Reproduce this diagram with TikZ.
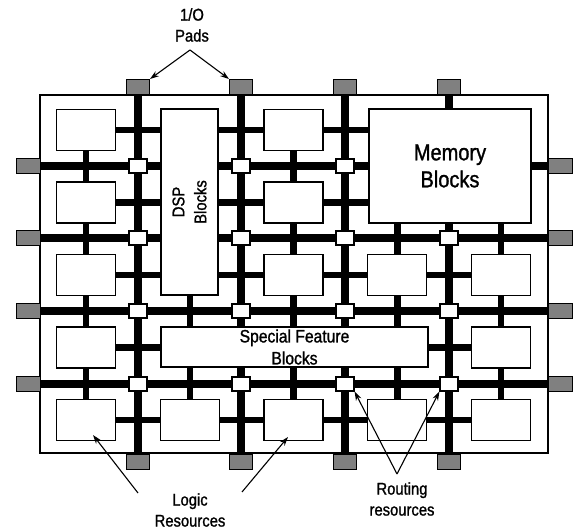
\documentclass[tikz,border=0pt]{standalone}
\usepackage{fontspec}
\setmainfont{Liberation Sans}[FakeStretch=0.87, FakeBold=1.2]
\usetikzlibrary{arrows.meta}
\definecolor{padgray}{gray}{0.5}

\begin{document}
\begin{tikzpicture}[
			x=1pt, y=-1pt,
			block/.style={rectangle, draw, line width=1.2pt, fill=white, inner sep=0pt, align=center},
			logic/.style={block, minimum width=59pt, minimum height=41pt},
			switch/.style={block, minimum width=18pt, minimum height=14pt},
			pad/.style={rectangle, draw, line width=1pt, fill=padgray, minimum width=23pt, minimum height=15pt, inner sep=0pt},
			mainbus/.style={line width=7.5pt},
			subbus/.style={line width=6.5pt},
			label/.style={align=center, font=\fontsize{17}{21}\selectfont},
			pointer/.style={-{Stealth[length=9pt, width=6pt]}, line width=1.1pt}
			]
			\useasboundingbox (0,0) rectangle (574,532);
			
			% chip frame
			\draw[line width=1.2pt] (40,95) rectangle (548,453);
			
			% routing lines
			\foreach \x in {138,241,345,449}
				\draw[mainbus] (\x,95) -- (\x,453);
			\foreach \y in {166,238,311,384}
				\draw[mainbus] (40,\y) -- (548,\y);
			\foreach \y in {130,202.5,275,347.5,420}
				\draw[subbus] (86,\y) -- (501,\y);
			\foreach \x in {86,189.75,293.5,397.25,501}
				\draw[subbus] (\x,130) -- (\x,420);
			
			% switch boxes
			\foreach \i/\x/\j/\y in {1/138/1/166, 2/241/1/166, 3/345/1/166,
					1/138/2/238, 2/241/2/238, 3/345/2/238, 4/449/2/238,
					1/138/3/311, 2/241/3/311, 3/345/3/311, 4/449/3/311,
					1/138/4/384, 2/241/4/384, 3/345/4/384, 4/449/4/384}
				\node[switch] (sw\i\j) at (\x,\y) {};
			
			% logic blocks
			\foreach \c/\r in {1/1,1/2,1/3,1/4,1/5,2/5,3/1,3/2,3/3,3/5,4/3,4/5,5/3,5/4,5/5}
				\node[logic] (lb\c\r) at ({86+103.75*(\c-1)},{130+72.5*(\r-1)}) {};
			
			% special blocks
			\node[block, rotate=90, minimum width=186pt, minimum height=57pt,
				font=\fontsize{17}{22}\selectfont] (dsp) at (189.5,202) {DSP\\Blocks};
			\node[block, minimum width=162pt, minimum height=114pt,
				font=\fontsize{23}{27}\selectfont] (mem) at (450,166) {Memory\\Blocks};
			\node[block, minimum width=267pt, minimum height=40pt,
				font=\fontsize{18}{22}\selectfont] (sfb) at (294.5,347) {Special Feature\\Blocks};
			
			% I/O pads
			\foreach \i/\x in {1/138,2/241,3/345,4/449} {
				\node[pad] (pt\i) at (\x,87) {};
				\node[pad] (pb\i) at (\x,461.5) {};
			}
			\foreach \j/\y in {1/166,2/238,3/311,4/384.5} {
				\node[pad, minimum width=24pt] (pl\j) at (28,\y) {};
				\node[pad, minimum width=24pt] (pr\j) at (560,\y) {};
			}
			
			% labels
			\node[label] (padstxt) at (192,25) {1/O\\Pads};
			\node[label] (logictxt) at (190,510) {Logic\\Resources};
			\node[label] (routetxt) at (402,499) {Routing\\resources};
			
			\coordinate (padsfork) at (190,50);
			\coordinate (routefork) at (397,474);
			\coordinate (logictail1) at (138,493);
			\coordinate (logictail2) at (242,492);
			\coordinate (logictip1) at (93,435);
			\coordinate (logictip2) at (288,437);
			
			\draw[pointer] (padsfork) -- (pt1.north east);
			\draw[pointer] (padsfork) -- (pt2.north west);
			\draw[pointer] (logictail1) -- (logictip1);
			\draw[pointer] (logictail2) -- (logictip2);
			\draw[pointer] (routefork) -- (sw34.south east);
			\draw[pointer] (routefork) -- (sw44.south west);
		\end{tikzpicture}
\end{document}
